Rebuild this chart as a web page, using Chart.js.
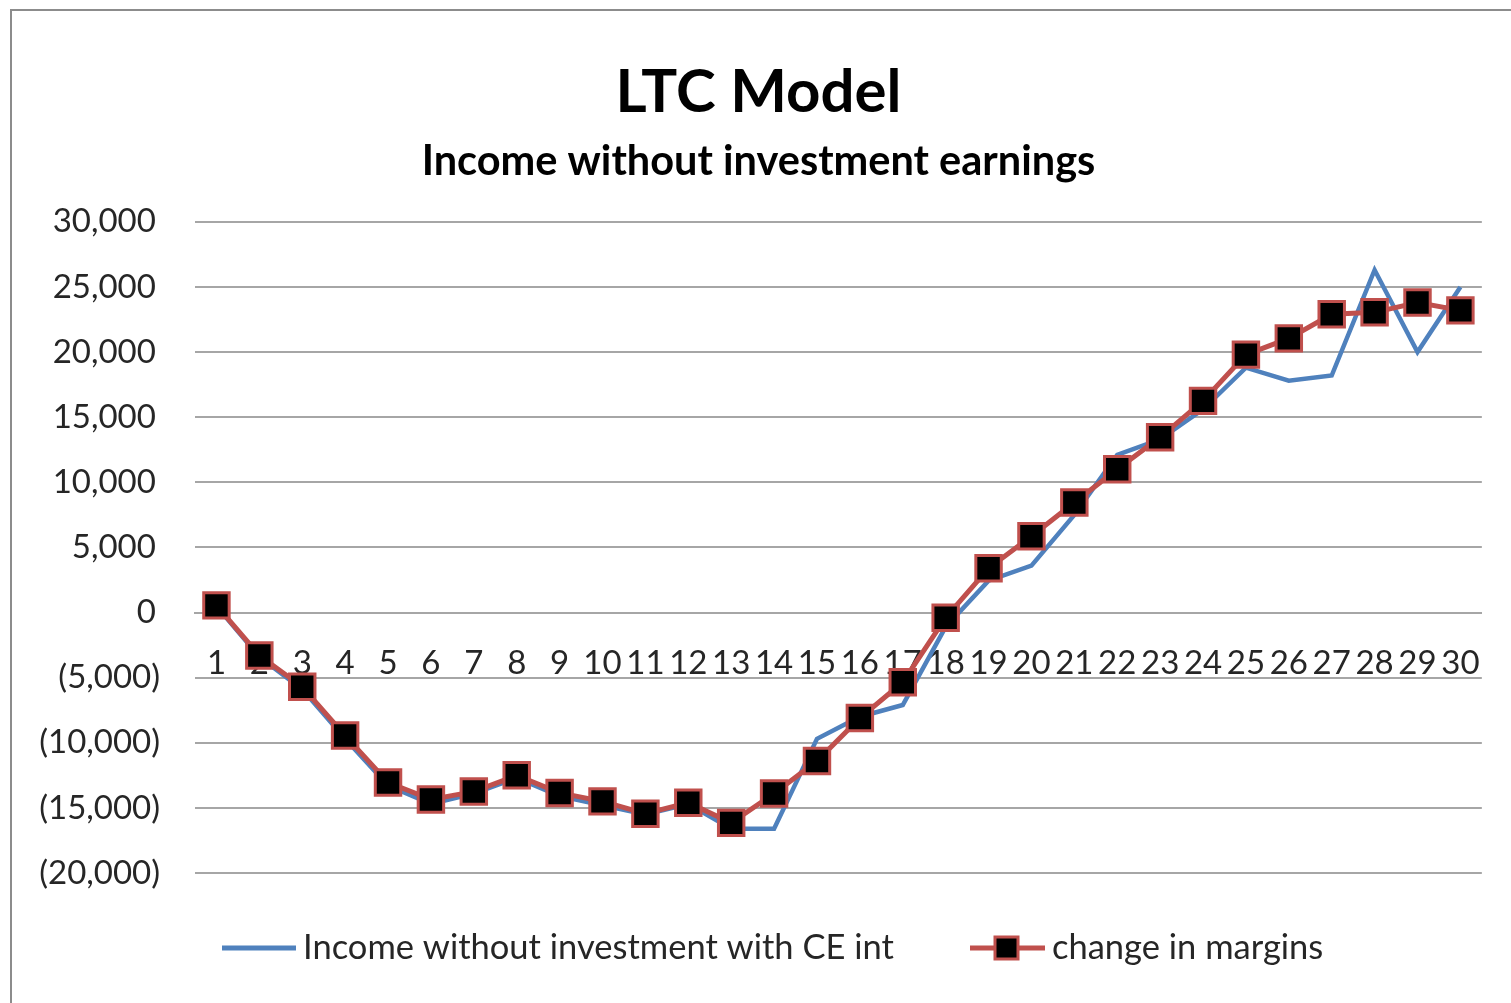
<!DOCTYPE html>
<html>
<head>
<meta charset="utf-8">
<script src="https://cdn.jsdelivr.net/npm/chart.js@4"></script>
<style>
  html, body { margin: 0; padding: 0; background: #fff; overflow: hidden; }
  #wrap { position: relative; width: 1511px; height: 1003px; }
  #frame {
    position: absolute; left: 10px; top: 9px; width: 1520px; height: 1020px;
    border: 2px solid #8c8c8c; box-sizing: border-box; pointer-events: none;
  }
  canvas { position: absolute; left: 0; top: 0; }
</style>
</head>
<body>
<div id="wrap">
  <canvas id="ltcChart" width="1511" height="1003"></canvas>
  <div id="frame"></div>
</div>
<script>
/* -------------------------------
   DATA
--------------------------------*/
const years = ["1","2","3","4","5","6","7","8","9","10","11","12","13","14","15",
               "16","17","18","19","20","21","22","23","24","25","26","27","28","29","30"];

const incomeCE = [500, -3400, -5900, -9700, -13300, -14700, -13900, -12700, -14100, -14800,
                  -15500, -14700, -16600, -16600, -9700, -8000, -7100, -1100, 2450, 3600,
                  7500, 12100, 13300, 15600, 18800, 17800, 18200, 26300, 20000, 25000];

const marginChange = [550, -3300, -5700, -9450, -13050, -14350, -13750, -12500, -13850, -14500,
                      -15450, -14600, -16150, -13900, -11400, -8100, -5350, -400, 3400, 5850,
                      8450, 11000, 13450, 16250, 19800, 21050, 22900, 23050, 23800, 23200];

const yTicks = [30000, 25000, 20000, 15000, 10000, 5000, 0, -5000, -10000, -15000, -20000];

const BLUE = "#4f81bd";
const RED = "#c0504d";
const FONT = "Lato";

// excel accounting style: negatives in brackets, positives keep a gap for ")"
function fmtAcct(v) {
  const s = Math.abs(v).toLocaleString("en-US");
  return v < 0 ? "(" + s + ")" : s + "\u2009";
}

/* -------------------------------
   LEGEND (excel style)
--------------------------------*/
const excelLegend = {
  id: "excelLegend",
  afterDraw(chart) {
    const ctx = chart.ctx;
    const y = 948;
    ctx.save();
    ctx.lineCap = "butt";

    // blue line item
    ctx.strokeStyle = BLUE;
    ctx.lineWidth = 5;
    ctx.beginPath();
    ctx.moveTo(222, y);
    ctx.lineTo(296, y);
    ctx.stroke();

    // red line + marker
    ctx.strokeStyle = RED;
    ctx.beginPath();
    ctx.moveTo(970, y);
    ctx.lineTo(1045, y);
    ctx.stroke();
    ctx.fillStyle = "#000";
    ctx.fillRect(995, y - 11, 23, 22);
    ctx.lineWidth = 3;
    ctx.strokeRect(995, y - 11, 23, 22);

    ctx.fillStyle = "#262626";
    ctx.font = "34.5px " + FONT;
    ctx.textBaseline = "middle";
    ctx.textAlign = "left";
    ctx.fillText("Income without investment with CE int", 303, y);
    ctx.fillText("change in margins", 1052, y);
    ctx.restore();
  }
};

/* -------------------------------
   CHART
--------------------------------*/
new Chart(document.getElementById("ltcChart"), {
  type: "line",
  data: {
    labels: years,
    datasets: [
      {
        label: "Income without investment with CE int",
        data: incomeCE,
        borderColor: BLUE,
        borderWidth: 4.5,
        pointRadius: 0,
        tension: 0,
        order: 1
      },
      {
        label: "change in margins",
        data: marginChange,
        borderColor: RED,
        borderWidth: 5,
        pointStyle: "rect",
        pointRadius: 18,
        pointBorderWidth: 3,
        pointBorderColor: RED,
        pointBackgroundColor: "#000",
        tension: 0,
        order: 0
      }
    ]
  },
  options: {
    responsive: false,
    animation: false,
    layout: { padding: { top: 10, right: 28, bottom: 130, left: 34 } },
    plugins: {
      legend: { display: false },
      tooltip: { enabled: false },
      title: {
        display: true,
        text: "LTC Model",
        color: "#000",
        font: { family: FONT, size: 60, weight: "bold" },
        padding: { top: 47, bottom: 8 }
      },
      subtitle: {
        display: true,
        text: "Income without investment earnings",
        color: "#000",
        font: { family: FONT, size: 41.5, weight: "bold" },
        padding: { top: 0, bottom: 35 }
      }
    },
    scales: {
      x: {
        position: { y: 0 },
        offset: true,
        grid: { display: false, drawTicks: false },
        border: { display: true, color: "#a6a6a6", width: 2 },
        ticks: {
          autoSkip: false,
          maxRotation: 0,
          padding: 31,
          color: "#262626",
          font: { family: FONT, size: 33 }
        }
      },
      y: {
        min: -20000,
        max: 30000,
        afterBuildTicks(scale) {
          scale.ticks = yTicks.map(v => ({ value: v }));
        },
        afterFit(scale) {
          scale.width = 161;
        },
        grid: { color: "#a6a6a6", lineWidth: 2, drawTicks: false },
        border: { display: false },
        ticks: {
          padding: 35,
          color: "#262626",
          font: { family: FONT, size: 33 },
          callback: v => fmtAcct(v)
        }
      }
    }
  },
  plugins: [excelLegend]
});
</script>
</body>
</html>
